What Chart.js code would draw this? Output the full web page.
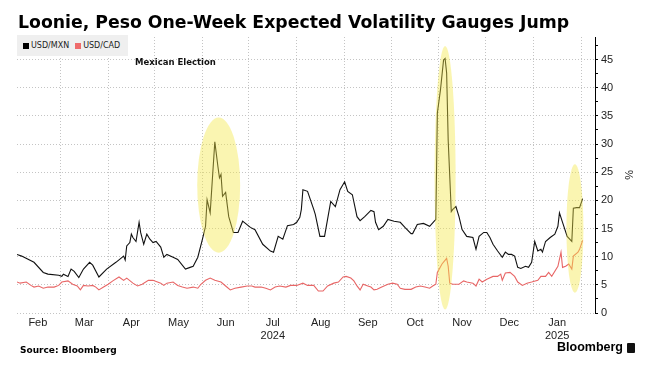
<!DOCTYPE html>
<html>
<head>
<meta charset="utf-8">
<script src="https://cdn.jsdelivr.net/npm/chart.js@4.4.1/dist/chart.umd.min.js"></script>
<style>
  body { margin: 0; background: #fff; }
  #wrap { position: relative; width: 654px; height: 371px; overflow: hidden; }
  #chart { position: absolute; left: 0; top: 0; }
  .title { position: absolute; left: 18px; top: 12px; line-height: 20px; white-space: nowrap;
           font: bold 17.3px "DejaVu Sans", sans-serif; color: #000; }
  #legend { position: absolute; left: 17px; top: 35px; width: 111px; height: 21px; background: #efefef;
            display: flex; align-items: center; font: 8px "DejaVu Sans", sans-serif; color: #222; }
  #legend span.item { display: flex; align-items: center; margin-left: 6px; }
  #legend span.sw { width: 6px; height: 6px; margin-right: 2px; display: inline-block; }
  .source { position: absolute; left: 20px; top: 345px; line-height: 11px;
            font: bold 9px "DejaVu Sans", sans-serif; color: #000; }
  .logo { position: absolute; left: 557px; top: 340px; line-height: 16px;
          font: bold 12.5px "Liberation Sans", Arial, sans-serif; color: #000; }
  .logo i { position: absolute; left: 70px; top: 3px; width: 8px; height: 10px; background: #111; border-radius: 1px; }
</style>
</head>
<body>
<div id="wrap">
  <canvas id="chart" width="654" height="371"></canvas>
  <div class="title">Loonie, Peso One-Week Expected Volatility Gauges Jump</div>
  <div id="legend"></div>
  <div class="source">Source: Bloomberg</div>
  <div class="logo">Bloomberg<i></i></div>
</div>
<script>
// x values are days since 1 Feb 2024
const monthLabels = ["Feb", "Mar", "Apr", "May", "Jun", "Jul", "Aug", "Sep", "Oct", "Nov", "Dec", "Jan"];
const monthStarts = [0, 29, 60, 90, 121, 151, 182, 213, 243, 274, 304, 335, 366];
const yearUnder = { Jul: "2024", Jan: "2025" };

const mxnDays = [1, 4, 12, 18, 21, 28, 30, 31, 34, 36, 38, 41, 44, 48, 50, 54, 59, 65, 70, 71, 72, 74, 75, 76, 78, 80, 81, 83, 85, 87, 89, 91, 94, 96, 98, 102, 105, 110, 113, 115, 118, 121, 123, 124, 126, 129, 131, 132, 133, 134, 136, 138, 141, 144, 147, 152, 155, 160, 165, 167, 170, 173, 176, 180, 182, 184, 185, 186, 189, 193, 194, 197, 200, 204, 207, 210, 213, 215, 218, 221, 223, 226, 230, 232, 233, 235, 238, 241, 245, 249, 252, 256, 257, 260, 264, 268, 271, 272, 273, 275, 277, 278, 279, 280, 282, 283, 285, 287, 289, 292, 296, 298, 300, 303, 305, 307, 309, 312, 315, 317, 319, 321, 323, 325, 327, 330, 332, 334, 336, 338, 340, 341, 343, 346, 349, 351, 352, 354, 357, 360, 361, 363, 365, 367];
const mxnVals = [10.4, 10.1, 9.0, 7.2, 6.9, 6.7, 6.5, 6.9, 6.5, 7.8, 7.4, 6.3, 7.8, 9.0, 8.5, 6.4, 7.8, 9.0, 10.1, 9.4, 11.9, 12.5, 14.0, 13.4, 12.7, 16.1, 14.3, 12.2, 14.0, 13.1, 12.5, 12.7, 11.7, 9.9, 10.4, 9.9, 9.5, 7.8, 8.1, 8.3, 9.9, 13.1, 15.4, 20.1, 17.8, 30.4, 26.0, 24.0, 24.6, 20.7, 21.4, 17.1, 14.3, 14.3, 16.3, 15.2, 14.8, 12.2, 11.0, 10.8, 13.6, 13.1, 15.5, 15.7, 16.1, 17.0, 18.4, 21.9, 21.6, 18.4, 17.5, 13.6, 13.6, 19.8, 18.9, 21.9, 23.3, 21.6, 21.0, 17.1, 16.4, 17.1, 18.2, 18.0, 16.1, 14.8, 15.4, 16.6, 16.3, 16.1, 15.2, 14.1, 14.1, 15.7, 15.9, 15.4, 16.3, 16.6, 35.5, 39.6, 44.9, 45.2, 42.6, 30.7, 18.0, 18.4, 18.9, 17.1, 14.8, 13.6, 13.4, 11.3, 13.6, 14.3, 14.3, 13.4, 12.2, 11.0, 9.9, 10.8, 10.4, 10.4, 10.1, 8.1, 7.9, 8.3, 8.1, 9.0, 12.7, 11.0, 11.3, 10.8, 12.7, 13.4, 14.0, 15.4, 17.8, 16.1, 13.6, 12.7, 18.6, 18.7, 18.7, 20.3];

const cadDays = [1, 3, 7, 10, 12, 15, 18, 21, 25, 28, 30, 34, 37, 40, 42, 44, 47, 50, 52, 54, 57, 60, 63, 67, 70, 72, 76, 79, 82, 86, 89, 94, 96, 98, 102, 105, 108, 111, 115, 118, 120, 123, 126, 129, 133, 136, 139, 142, 146, 150, 153, 155, 159, 162, 165, 168, 171, 175, 178, 182, 186, 189, 193, 196, 199, 202, 206, 209, 212, 214, 217, 219, 221, 223, 225, 228, 230, 232, 234, 237, 241, 244, 247, 249, 252, 256, 259, 262, 265, 268, 270, 272, 273, 276, 279, 280, 281, 283, 287, 290, 292, 296, 298, 300, 302, 305, 309, 312, 314, 315, 317, 320, 323, 325, 328, 331, 334, 338, 340, 343, 345, 347, 351, 353, 354, 356, 358, 360, 361, 364, 365, 367];
const cadVals = [5.5, 5.3, 5.5, 4.9, 4.6, 4.8, 4.4, 4.6, 4.6, 4.9, 5.5, 5.7, 5.1, 4.8, 4.1, 4.9, 4.8, 4.9, 4.6, 4.1, 4.6, 5.1, 5.7, 6.4, 5.8, 6.2, 5.3, 4.8, 5.1, 5.8, 5.8, 5.3, 4.9, 5.3, 5.5, 4.9, 4.6, 4.4, 4.6, 4.4, 5.1, 5.8, 6.2, 5.8, 5.5, 4.8, 4.1, 4.4, 4.6, 4.8, 4.8, 4.6, 4.6, 4.4, 4.1, 4.6, 4.8, 4.6, 4.9, 4.9, 5.3, 4.9, 4.9, 3.9, 3.9, 4.8, 5.3, 5.5, 6.4, 6.5, 6.2, 5.7, 4.8, 4.1, 5.1, 4.8, 4.6, 4.1, 4.2, 4.6, 5.1, 5.3, 5.1, 4.4, 4.2, 4.2, 4.6, 4.8, 4.6, 4.4, 4.8, 5.1, 7.2, 8.7, 9.7, 8.3, 5.3, 5.1, 5.1, 5.7, 5.5, 5.3, 4.8, 6.0, 5.5, 6.0, 6.5, 6.5, 6.9, 5.8, 7.1, 7.2, 6.5, 5.5, 4.9, 5.3, 5.5, 5.8, 6.5, 6.5, 7.2, 6.5, 8.3, 10.8, 8.1, 8.3, 8.7, 7.8, 10.1, 10.8, 11.3, 12.9];

// yellow highlight ellipses: centre (day, value) and half extents in the same units
const highlights = [
  { day: 131.5, val: 22.7, halfDays: 13.9, halfVal: 12.0 },
  { day: 278, val: 24.0, halfDays: 6.8, halfVal: 23.4 },
  { day: 362, val: 15.0, halfDays: 5.5, halfVal: 11.4 }
];
const note = { text: "Mexican Election", day: 103.5, val: 44.4 };

const toPoints = (days, vals) => days.map((d, i) => ({ x: d, y: vals[i] }));

const overlay = {
  id: "overlay",
  afterDatasetsDraw(chart) {
    const { ctx } = chart;
    const x = chart.scales.x, y = chart.scales.y;
    ctx.save();
    ctx.fillStyle = "rgba(242, 232, 70, 0.42)";
    highlights.forEach(h => {
      const cx = x.getPixelForValue(h.day), cy = y.getPixelForValue(h.val);
      const rx = Math.abs(x.getPixelForValue(h.day + h.halfDays) - cx);
      const ry = Math.abs(y.getPixelForValue(h.val + h.halfVal) - cy);
      ctx.beginPath();
      ctx.ellipse(cx, cy, rx, ry, 0, 0, Math.PI * 2);
      ctx.fill();
    });
    ctx.font = 'bold 8.5px "DejaVu Sans", sans-serif';
    ctx.fillStyle = "#111";
    ctx.textAlign = "center";
    ctx.textBaseline = "middle";
    ctx.fillText(note.text, x.getPixelForValue(note.day), y.getPixelForValue(note.val));
    ctx.restore();
  }
};

const gridGray = "#c4c4c4";
const chart = new Chart(document.getElementById("chart").getContext("2d"), {
  type: "line",
  data: {
    datasets: [
      { label: "USD/MXN", data: toPoints(mxnDays, mxnVals), borderColor: "#111", backgroundColor: "#000",
        borderWidth: 1.1, pointRadius: 0, tension: 0 },
      { label: "USD/CAD", data: toPoints(cadDays, cadVals), borderColor: "#e86666", backgroundColor: "#ee6b6b",
        borderWidth: 1.1, pointRadius: 0, tension: 0 }
    ]
  },
  options: {
    responsive: false,
    animation: false,
    layout: { padding: { left: 17, top: 37, right: 19, bottom: 28 } },
    plugins: { legend: { display: false }, tooltip: { enabled: false } },
    scales: {
      x: {
        type: "linear", min: 1, max: 375,
        grid: { display: false, drawTicks: false },
        border: { display: false },
        afterBuildTicks: s => {
          s.ticks = monthLabels.map((m, i) => ({ value: (monthStarts[i] + monthStarts[i + 1]) / 2 }));
        },
        afterFit: s => { s.height = 30; },
        ticks: {
          autoSkip: false, maxRotation: 0, padding: 3, color: "#222",
          font: { family: '"Liberation Sans", Arial, sans-serif', size: 11 },
          callback: (v, i) => yearUnder[monthLabels[i]] ? [monthLabels[i], yearUnder[monthLabels[i]]] : monthLabels[i]
        }
      },
      xGrid: {
        type: "linear", position: "bottom", min: 1, max: 375,
        afterBuildTicks: s => {
          s.ticks = monthStarts.filter(d => d >= s.min && d <= s.max).map(d => ({ value: d }));
        },
        afterFit: s => { s.height = 0; },
        ticks: { display: false },
        grid: { color: gridGray, drawTicks: false },
        border: { display: false, dash: [1, 2] }
      },
      y: {
        position: "right", min: 0, max: 49,
        afterFit: s => { s.width = 40; },
        ticks: {
          stepSize: 2.5, includeBounds: false, autoSkip: false, padding: 3, color: "#222",
          font: { family: '"Liberation Sans", Arial, sans-serif', size: 11 },
          callback: v => (Math.abs(v % 5) < 1e-6 ? v : "")
        },
        grid: {
          color: c => (Math.abs(c.tick.value % 5) < 1e-6 ? gridGray : "rgba(0,0,0,0)"),
          tickLength: 3, tickColor: "#000", tickBorderDash: []
        },
        border: { display: true, color: "#000", width: 1, dash: [1, 2] },
        title: { display: true, text: "%", color: "#222", padding: 0,
                 font: { family: '"Liberation Sans", Arial, sans-serif', size: 11 } }
      }
    }
  },
  plugins: [overlay]
});

// html legend built from the datasets
document.getElementById("legend").innerHTML = chart.data.datasets.map(ds =>
  `<span class="item"><span class="sw" style="background:${ds.backgroundColor}"></span>${ds.label}</span>`
).join("");
</script>
</body>
</html>
